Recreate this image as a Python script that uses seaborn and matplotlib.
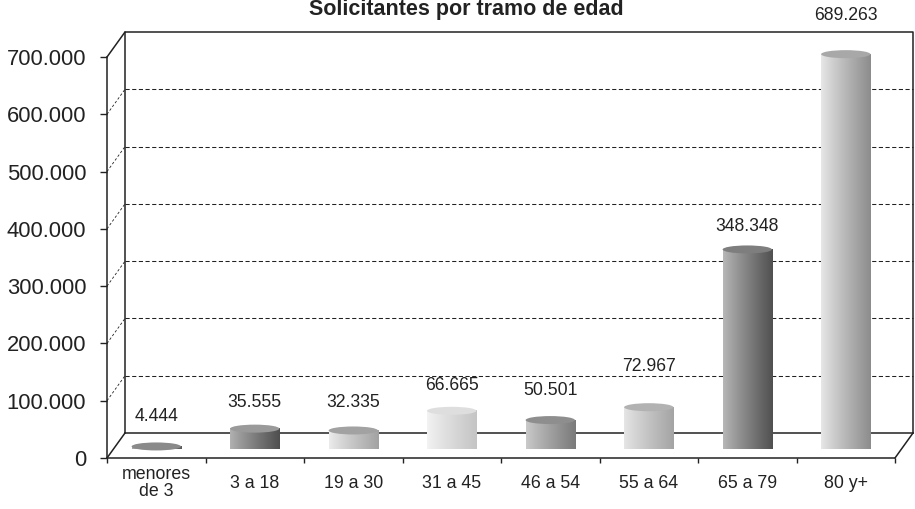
import numpy as np
import matplotlib
matplotlib.use("Agg")
import matplotlib.pyplot as plt
from matplotlib.transforms import ScaledTranslation
from matplotlib.patches import Ellipse
from matplotlib.colors import to_rgb
import seaborn as sns

# ---- data -------------------------------------------------------------
categories = ["menores\nde 3", "3 a 18", "19 a 30", "31 a 45",
              "46 a 54", "55 a 64", "65 a 79", "80 y+"]
solicitantes = [4444, 35555, 32335, 66665, 50501, 72967, 348348, 689263]
y_ticks = [0, 100000, 200000, 300000, 400000, 500000, 600000, 700000]

# ---- styling ----------------------------------------------------------
body_left = ["#a8a8a8", "#b2b2b2", "#ececec", "#f3f3f3",
             "#cbcbcb", "#e6e6e6", "#b8b8b8", "#e8e8e8"]
body_right = ["#5c5c5c", "#4e4e4e", "#a2a2a2", "#c4c4c4",
              "#7a7a7a", "#a4a4a4", "#505050", "#8c8c8c"]
top_colors = ["#8a8a8a", "#9a9a9a", "#a2a2a2", "#dedede",
              "#8e8e8e", "#b2b2b2", "#7e7e7e", "#a8a8a8"]
label_lift_px = [30, 26, 28, 25, 30, 41, 23, 39]

LINE = "#222222"
W, H, DPI = 915, 509, 100


def fmt(v):
    return f"{v:,}".replace(",", ".")


sns.set_style("white")
plt.rcParams["font.family"] = ["Liberation Sans", "DejaVu Sans"]
plt.rcParams["text.color"] = LINE

fig = plt.figure(figsize=(W / DPI, H / DPI), dpi=DPI)
ax = fig.add_axes([107 / W, 51 / H, 788 / W, 401 / H])

sns.barplot(x=list(range(len(categories))), y=solicitantes,
            hue=list(range(len(categories))), palette=top_colors,
            width=0.5, saturation=1, legend=False, ax=ax, zorder=3)

ax.set_xlim(-0.5, len(categories) - 0.5)
ax.set_ylim(0, 700000)

# depth of the 3-D box and lift of the bar bases, in pixels
back = ax.transData + ScaledTranslation(18 / DPI, 25 / DPI, fig.dpi_scale_trans)
lift = ax.transData + ScaledTranslation(0, 9 / DPI, fig.dpi_scale_trans)

x0, x1 = -0.5, len(categories) - 0.5
y0, y1 = 0, 700000
dash = dict(color=LINE, lw=0.75, dashes=(4, 2.4), clip_on=False, zorder=1)
solid = dict(color=LINE, lw=1.1, clip_on=False, zorder=1, solid_capstyle="projecting")

# back wall frame and floor
ax.plot([x0, x0, x1, x1], [y0, y1, y1, y0], transform=back, **solid)
ax.plot([x0, x1], [y0, y0], transform=back, **solid)
# gridlines on the back wall and their side-wall diagonals
for v in y_ticks[1:-1]:
    ax.plot([x0, x1], [v, v], transform=back, **dash)
    p_front = ax.transData.transform((x0, v))
    p_back = back.transform((x0, v))
    fig.lines.append(plt.Line2D([p_front[0] / W, p_back[0] / W],
                                [p_front[1] / H, p_back[1] / H],
                                transform=fig.transFigure, color=LINE,
                                lw=0.6, dashes=(3, 2.5)))
# solid edges joining front and back
for (xx, yy) in [(x0, y0), (x0, y1), (x1, y0)]:
    p_front = ax.transData.transform((xx, yy))
    p_back = back.transform((xx, yy))
    fig.lines.append(plt.Line2D([p_front[0] / W, p_back[0] / W],
                                [p_front[1] / H, p_back[1] / H],
                                transform=fig.transFigure, color=LINE, lw=1.1))

# cylinders: gradient body plus elliptical top
px_per_unit = (401 / 700000)
ell_h = 8 / px_per_unit
patches = sorted(ax.patches, key=lambda p: p.get_x())
t = np.linspace(0, 1, 256)
for i, p in enumerate(patches):
    bx, bw, bh = p.get_x(), p.get_width(), p.get_height()
    p.set_transform(lift)
    p.set_edgecolor("none")
    p.set_clip_on(False)
    cl, cr = np.array(to_rgb(body_left[i])), np.array(to_rgb(body_right[i]))
    prof = t ** 0.9
    grad = (cl[None, :] * (1 - prof[:, None]) + cr[None, :] * prof[:, None])[None, :, :]
    im = ax.imshow(grad, extent=(bx, bx + bw, 0, bh), transform=lift,
                   aspect="auto", interpolation="bilinear", zorder=3.5)
    im.set_clip_on(False)
    ax.add_patch(Ellipse((bx + bw / 2, bh), width=bw, height=ell_h,
                         transform=lift, facecolor=top_colors[i],
                         edgecolor="none", zorder=4, clip_on=False))
    ax.annotate(fmt(solicitantes[i]), xy=(bx + bw / 2, bh), xycoords=lift,
                xytext=(0, label_lift_px[i] * 0.72), textcoords="offset points",
                ha="center", va="center", fontsize=12.7, color=LINE,
                annotation_clip=False)

ax.set_xlim(x0, x1)
ax.set_ylim(y0, y1)
ax.set_aspect("auto")

# axes, ticks and labels
for side in ["top", "right"]:
    ax.spines[side].set_visible(False)
for side in ["left", "bottom"]:
    ax.spines[side].set_color(LINE)
    ax.spines[side].set_linewidth(1.1)
    ax.spines[side].set_zorder(5)

ax.set_yticks(y_ticks)
ax.set_yticklabels([fmt(v) for v in y_ticks])
ax.tick_params(axis="y", direction="out", length=5, width=1, pad=10,
               labelsize=15.8, colors=LINE, left=True)

ax.set_xticks(range(len(categories)))
ax.set_xticklabels(categories, va="center", linespacing=1.0)
ax.set_xticks(np.arange(-0.5, len(categories), 1), minor=True)
ax.tick_params(axis="x", which="major", length=0, pad=18,
               labelsize=12.8, colors=LINE)
ax.tick_params(axis="x", which="minor", direction="out", length=3.6,
               width=1, color=LINE, bottom=True)
ax.set_xlabel("")
ax.set_ylabel("")
ax.grid(False)

fig.text(466 / W, 1 - 15 / H, "Solicitantes por tramo de edad",
         ha="center", va="baseline", fontsize=15.5, fontweight="bold",
         color=LINE)

fig.savefig("out.png", dpi=DPI)
